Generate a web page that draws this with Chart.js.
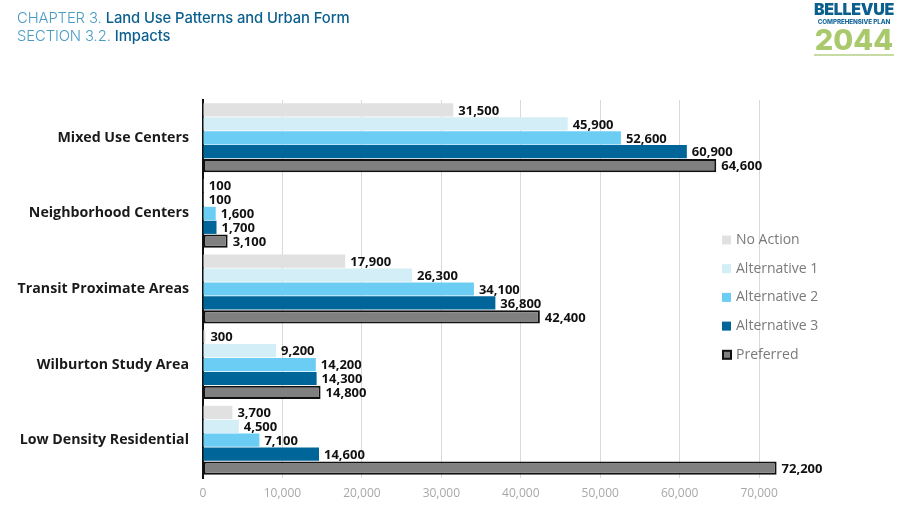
<!DOCTYPE html>
<html>
<head>
<meta charset="utf-8">
<script src="https://cdn.jsdelivr.net/npm/chart.js@4/dist/chart.umd.min.js"></script>
<style>
  html, body { margin:0; padding:0; background:#fff; }
  #wrap { position:relative; width:904px; height:508px; overflow:hidden; }
  #c { position:absolute; left:0; top:0; }
  .hdr { position:absolute; left:17px; font-family:"Inter","Open Sans",sans-serif; font-size:14.8px; line-height:18px; letter-spacing:-0.1px; white-space:nowrap; }
  .hdr .a { color:#4a9bc4; font-weight:300; }
  .hdr .b { color:#0b5f8f; font-weight:500; }
  #logo { position:absolute; left:812px; top:0px; width:84px; text-align:center; font-family:"Inter","Open Sans",sans-serif; }
  #logo .l1 { color:#0b5f8f; font-weight:900; font-size:16px; line-height:17px; letter-spacing:-0.3px; margin-top:1px; }
  #logo .l2 { color:#1a6a9c; font-weight:800; font-size:6.3px; line-height:8px; letter-spacing:-0.1px; }
  #logo .l3 { color:#a9c96c; font-weight:800; font-size:29px; line-height:27px; letter-spacing:0px; }
  #logo .bar { margin:1px auto 0; width:80px; height:2px; background:#c7dca4; }
</style>
</head>
<body>
<div id="wrap">
  <canvas id="c" width="904" height="508"></canvas>
  <div class="hdr" style="top:9px"><span class="a">CHAPTER 3.</span> <span class="b">Land Use Patterns and Urban Form</span></div>
  <div class="hdr" style="top:27px"><span class="a">SECTION 3.2.</span> <span class="b">Impacts</span></div>
  <div id="logo">
    <div class="l1">BELLEVUE</div>
    <div class="l2">COMPREHENSIVE PLAN</div>
    <div class="l3">2044</div>
    <div class="bar"></div>
  </div>
</div>
<script>
const categories = ["Mixed Use Centers", "Neighborhood Centers", "Transit Proximate Areas", "Wilburton Study Area", "Low Density Residential"];
const seriesNames = ["No Action", "Alternative 1", "Alternative 2", "Alternative 3", "Preferred"];
const noAction     = [31500, 100, 17900, 300, 3700];
const alternative1 = [45900, 100, 26300, 9200, 4500];
const alternative2 = [52600, 1600, 34100, 14200, 7100];
const alternative3 = [60900, 1700, 36800, 14300, 14600];
const preferred    = [64600, 3100, 42400, 14800, 72200];
const xTicks = [0, 10000, 20000, 30000, 40000, 50000, 60000, 70000];

const seriesValues = [noAction, alternative1, alternative2, alternative3, preferred];
const fills = ["#e1e1e1", "#d3eef6", "#6ccdf4", "#006699", "#808080"];
const borders = [0, 0, 0, 0, 2];

const datasets = seriesNames.map((n, i) => ({
  label: n,
  data: seriesValues[i],
  backgroundColor: fills[i],
  borderColor: "#111111",
  borderWidth: borders[i],
  borderSkipped: false,
  categoryPercentage: 0.92,
  barPercentage: 0.95
}));

const fmt = v => v.toLocaleString("en-US");

const valueLabels = {
  id: "valueLabels",
  afterDatasetsDraw(chart) {
    const ctx = chart.ctx;
    ctx.save();
    ctx.font = "bold 13px 'Open Sans', sans-serif";
    ctx.fillStyle = "#111";
    ctx.textAlign = "left";
    ctx.textBaseline = "middle";
    chart.data.datasets.forEach((ds, di) => {
      const meta = chart.getDatasetMeta(di);
      meta.data.forEach((el, i) => {
        ctx.fillText(fmt(ds.data[i]), el.x + 5, el.y + 1);
      });
    });
    ctx.restore();
  }
};

const customLegend = {
  id: "customLegend",
  afterDraw(chart) {
    const ctx = chart.ctx;
    ctx.save();
    ctx.font = "14px 'Open Sans', sans-serif";
    ctx.textBaseline = "middle";
    ctx.textAlign = "left";
    const x0 = 722, y0 = 240, dy = 28.7;
    seriesNames.forEach((n, i) => {
      const y = y0 + i * dy;
      ctx.fillStyle = fills[i];
      if (borders[i]) {
        ctx.fillStyle = "#111";
        ctx.fillRect(x0, y - 5, 10, 10);
        ctx.fillStyle = fills[i];
        ctx.fillRect(x0 + 2, y - 3, 6, 6);
      } else {
        ctx.fillRect(x0, y - 4.5, 9, 9);
      }
      ctx.fillStyle = "#7a7a7a";
      ctx.fillText(n, x0 + 14, y);
    });
    ctx.restore();
  }
};

new Chart(document.getElementById("c"), {
  type: "bar",
  data: { labels: categories, datasets },
  options: {
    indexAxis: "y",
    responsive: false,
    animation: false,
    devicePixelRatio: 1,
    layout: { padding: { left: 0, top: 100, right: 125, bottom: 0 } },
    plugins: { legend: { display: false }, tooltip: { enabled: false } },
    scales: {
      x: {
        min: 0,
        max: 72500,
        afterFit: s => { s.height = 30; },
        afterBuildTicks: s => { s.ticks = xTicks.map(v => ({ value: v })); },
        ticks: { includeBounds: false, color: "#a8a8a8", font: { family: "'Open Sans', sans-serif", size: 12 }, padding: 8, callback: v => fmt(v) },
        grid: { color: "#d9d9d9", lineWidth: 1, drawTicks: false },
        border: { display: false }
      },
      y: {
        afterFit: s => { s.width = 203; },
        ticks: { color: "#1a1a1a", font: { family: "'Open Sans', sans-serif", size: 14.2, weight: "bold" }, padding: 14 },
        grid: { display: false, drawTicks: false },
        border: { display: true, color: "#111", width: 2 }
      }
    }
  },
  plugins: [valueLabels, customLegend]
});
</script>
</body>
</html>
